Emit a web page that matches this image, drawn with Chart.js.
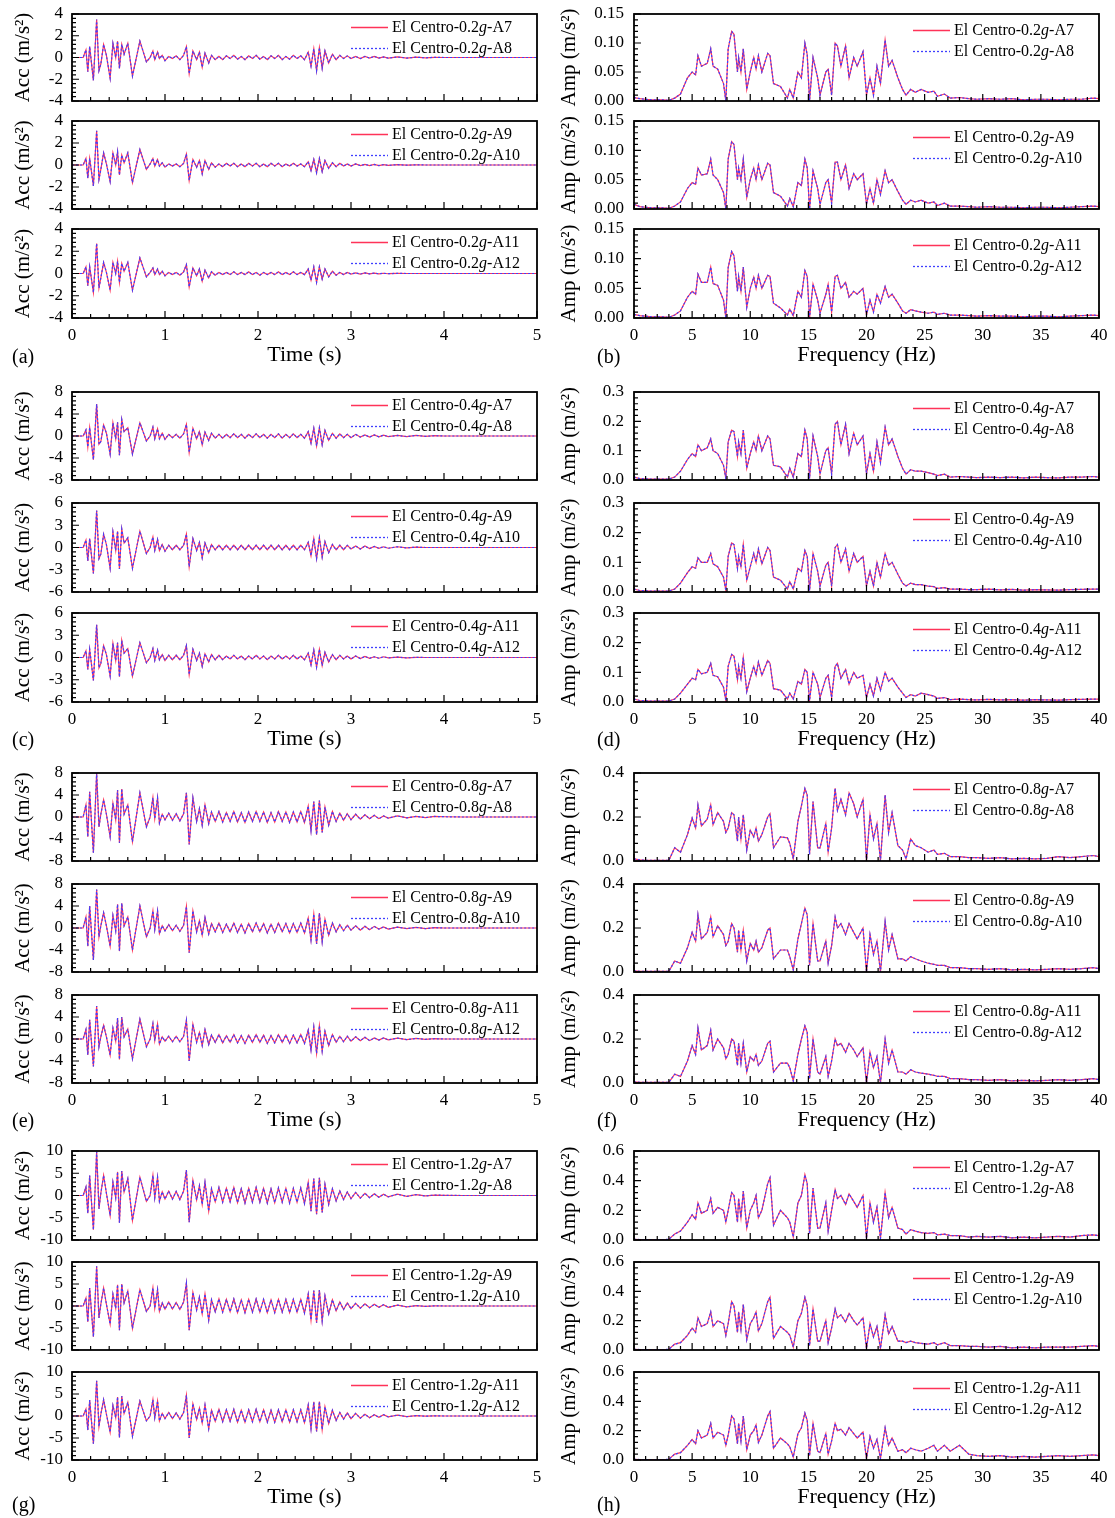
<!DOCTYPE html>
<html>
<head>
<meta charset="utf-8">
<script src="https://cdn.jsdelivr.net/npm/chart.js@4.4.1/dist/chart.umd.min.js"></script>
<style>
  body { margin: 0; background: #fff; width: 1115px; height: 1518px; position: relative; overflow: hidden; }
  canvas { position: absolute; }
  .tag { position: absolute; font: 20px "Liberation Serif", serif; color: #000; }
</style>
</head>
<body>
<script>
// ---- axes ----
const timeS = [
  0, 0.12, 0.15, 0.17, 0.19, 0.23, 0.265, 0.29, 0.31, 0.34,
  0.37, 0.41, 0.44, 0.47, 0.49, 0.51, 0.535, 0.56, 0.60, 0.65,
  0.73, 0.80, 0.84, 0.87, 0.89, 0.92, 0.94, 0.97, 1.00, 1.04,
  1.08, 1.12, 1.16, 1.20, 1.23, 1.26, 1.30, 1.34, 1.37, 1.40,
  1.43, 1.47, 1.50, 1.54, 1.58, 1.62, 1.66, 1.70, 1.74, 1.78,
  1.82, 1.86, 1.90, 1.94, 1.98, 2.02, 2.06, 2.10, 2.14, 2.18,
  2.22, 2.26, 2.30, 2.34, 2.38, 2.42, 2.46, 2.50, 2.54, 2.57,
  2.60, 2.63, 2.66, 2.69, 2.72, 2.76, 2.80, 2.84, 2.88, 2.92,
  2.96, 3.00, 3.05, 3.10, 3.15, 3.20, 3.25, 3.30, 3.35, 3.40,
  3.50, 3.60, 3.70, 3.80, 3.90, 4.00, 4.20, 4.40, 4.60, 5.00
];
const freqHz = [
  0, 0.5, 1, 1.5, 2, 2.5, 3, 3.5, 4, 4.6,
  5.0, 5.3, 5.5, 5.8, 6.3, 6.6, 6.8, 7.2, 7.7, 7.9,
  8.1, 8.4, 8.6, 8.9, 9.0, 9.2, 9.4, 9.7, 10.0, 10.3,
  10.5, 10.7, 11.0, 11.5, 11.7, 12.0, 12.6, 13.2, 13.4, 13.7,
  14.1, 14.4, 14.7, 14.9, 15.1, 15.4, 15.8, 16.0, 16.5, 16.7,
  17.0, 17.3, 17.5, 17.8, 18.2, 18.5, 18.9, 19.2, 19.7, 20.0,
  20.3, 20.6, 20.9, 21.2, 21.6, 21.9, 22.2, 22.7, 23.1, 23.4,
  23.8, 24.2, 24.7, 25.3, 25.8, 26.1, 26.7, 27.2, 28.0, 28.8,
  29.5, 30.5, 31.5, 32.5, 33.5, 34.5, 35.5, 36.5, 37.5, 38.5,
  39.5, 40
];

// ---- tick labels ----
const timeTicks = [0, 1, 2, 3, 4, 5];
const freqTicks = [0, 5, 10, 15, 20, 25, 30, 35, 40];
const accTicks4 = [-4, -2, 0, 2, 4];
const accTicks6 = [-6, -3, 0, 3, 6];
const accTicks8 = [-8, -4, 0, 4, 8];
const accTicks10 = [-10, -5, 0, 5, 10];
const ampTicks015 = [0, 0.05, 0.10, 0.15];
const ampTicks03 = [0, 0.1, 0.2, 0.3];
const ampTicks04 = [0, 0.2, 0.4];
const ampTicks06 = [0, 0.2, 0.4, 0.6];

// ---- legend names ----
const levels = ['0.2', '0.4', '0.8', '1.2'];
const sensorPairs = [['A7', 'A8'], ['A9', 'A10'], ['A11', 'A12']];

// ---- acceleration time histories (m/s2); the two sensors of a pair overlap, read as one trace ----
const acc02_1 = [
  0, 0, 0.7, -1.3, 1.0, -2.1, 3.5, -1.2, -0.6, 1.2,
  0.2, -1.9, 1.3, 0.0, 1.5, -1.0, 1.2, 0.3, 1.3, -1.7,
  1.5, -0.4, 0.0, 0.6, -0.2, 0.5, -0.1, 0.2, -0.3, 0.1,
  -0.1, 0.15, -0.2, 0.2, 1.0, -1.5, 0.6, -0.2, 0.5, -0.9,
  0.4, -0.5, 0.2, -0.2, 0.1, -0.2, 0.15, -0.1, 0.2, -0.15,
  0.1, -0.2, 0.15, -0.1, 0.2, -0.15, 0.1, -0.2, 0.15, -0.1,
  0.2, -0.2, 0.1, -0.15, 0.2, -0.1, 0.15, -0.2, 0.5, -0.8,
  0.8, -1.2, 0.9, -1.0, 0.6, -0.5, 0.3, -0.2, 0.2, -0.1,
  0.15, -0.1, 0.1, -0.1, 0.1, -0.05, 0.1, -0.05, 0.05, -0.05,
  0.05, -0.05, 0.03, -0.03, 0.02, 0, 0, 0, 0, 0
];
const acc02_2 = [
  0, 0, 0.6, -1.2, 0.6, -1.9, 3.1, -1.3, -0.4, 1.1,
  0.1, -1.5, 1.1, 0.0, 1.2, -0.9, 0.9, 0.2, 1.1, -1.6,
  1.4, -0.4, 0.1, 0.6, -0.1, 0.5, -0.1, 0.2, -0.2, 0.1,
  -0.1, 0.1, -0.15, 0.15, 1.0, -1.4, 0.5, -0.2, 0.4, -0.8,
  0.4, -0.4, 0.2, -0.2, 0.1, -0.15, 0.15, -0.1, 0.15, -0.15,
  0.1, -0.15, 0.15, -0.1, 0.15, -0.15, 0.1, -0.15, 0.15, -0.1,
  0.15, -0.15, 0.1, -0.1, 0.15, -0.1, 0.1, -0.15, 0.3, -0.5,
  0.5, -0.7, 0.6, -0.6, 0.4, -0.3, 0.2, -0.15, 0.15, -0.1,
  0.1, -0.1, 0.1, -0.05, 0.05, -0.05, 0.05, -0.05, 0.03, -0.03,
  0.03, -0.02, 0.02, 0, 0, 0, 0, 0, 0, 0
];
const acc02_3 = [
  0, 0, 0.6, -1.1, 0.6, -1.7, 2.7, -1.3, -0.4, 1.0,
  0.1, -1.5, 1.0, 0.0, 1.1, -0.8, 0.9, 0.2, 1.0, -1.5,
  1.4, -0.3, 0.1, 0.5, -0.1, 0.4, -0.1, 0.2, -0.2, 0.1,
  -0.1, 0.1, -0.15, 0.15, 0.8, -1.2, 0.5, -0.2, 0.4, -0.7,
  0.3, -0.4, 0.15, -0.15, 0.1, -0.1, 0.1, -0.1, 0.15, -0.1,
  0.1, -0.1, 0.15, -0.1, 0.1, -0.15, 0.1, -0.1, 0.1, -0.1,
  0.15, -0.1, 0.1, -0.1, 0.15, -0.1, 0.1, -0.1, 0.4, -0.6,
  0.6, -0.8, 0.6, -0.5, 0.4, -0.3, 0.2, -0.15, 0.1, -0.1,
  0.1, -0.05, 0.05, -0.05, 0.05, -0.03, 0.03, -0.03, 0.02, -0.02,
  0.02, 0, 0, 0, 0, 0, 0, 0, 0, 0
];
const acc04_1 = [
  0, 0, 1.1, -2.0, 1.5, -4.3, 5.8, -1.5, -1.0, 2.0,
  0.5, -3.3, 2.4, -0.5, 2.5, -3.5, 3.0, 0.8, 1.5, -3.3,
  2.4, -0.9, 0.0, 1.6, -0.5, 1.3, -0.5, 0.5, -0.6, 0.3,
  -0.3, 0.3, -0.4, 0.4, 2.1, -3.0, 1.4, -0.5, 0.8, -1.6,
  0.7, -0.8, 0.5, -0.4, 0.3, -0.4, 0.3, -0.3, 0.4, -0.3,
  0.3, -0.4, 0.3, -0.3, 0.4, -0.3, 0.3, -0.4, 0.3, -0.3,
  0.4, -0.4, 0.3, -0.3, 0.4, -0.3, 0.3, -0.4, 0.8, -1.3,
  1.4, -1.8, 1.5, -1.6, 1.0, -0.8, 0.5, -0.4, 0.4, -0.3,
  0.3, -0.3, 0.3, -0.2, 0.2, -0.2, 0.2, -0.15, 0.15, -0.1,
  0.1, -0.1, 0.1, -0.05, 0.05, 0, 0, 0, 0, 0
];
const acc04_2 = [
  0, 0, 1.0, -1.8, 1.2, -3.5, 5.0, -1.5, -0.9, 1.8,
  0.4, -2.8, 2.1, -0.4, 2.2, -2.9, 2.5, 0.6, 1.3, -2.8,
  2.2, -0.8, 0.0, 1.4, -0.4, 1.1, -0.4, 0.4, -0.5, 0.3,
  -0.3, 0.3, -0.3, 0.3, 1.8, -2.6, 1.2, -0.4, 0.7, -1.4,
  0.6, -0.7, 0.4, -0.3, 0.3, -0.3, 0.3, -0.3, 0.3, -0.3,
  0.3, -0.3, 0.3, -0.3, 0.3, -0.3, 0.3, -0.3, 0.3, -0.3,
  0.3, -0.3, 0.3, -0.3, 0.3, -0.3, 0.3, -0.3, 0.7, -1.1,
  1.2, -1.5, 1.3, -1.3, 0.8, -0.7, 0.4, -0.3, 0.3, -0.3,
  0.3, -0.2, 0.2, -0.2, 0.2, -0.15, 0.15, -0.1, 0.1, -0.1,
  0.1, -0.05, 0.05, 0, 0, 0, 0, 0, 0, 0
];
const acc04_3 = [
  0, 0, 0.9, -1.6, 1.1, -3.1, 4.4, -1.4, -0.8, 1.6,
  0.4, -2.5, 1.9, -0.4, 2.0, -2.6, 2.3, 0.6, 1.2, -2.5,
  2.0, -0.7, 0.0, 1.2, -0.4, 1.0, -0.3, 0.4, -0.4, 0.3,
  -0.3, 0.3, -0.3, 0.3, 1.6, -2.3, 1.1, -0.4, 0.6, -1.2,
  0.5, -0.6, 0.4, -0.3, 0.3, -0.3, 0.2, -0.2, 0.3, -0.2,
  0.2, -0.3, 0.2, -0.2, 0.3, -0.2, 0.2, -0.3, 0.2, -0.2,
  0.3, -0.2, 0.2, -0.2, 0.3, -0.2, 0.2, -0.3, 0.6, -1.0,
  1.0, -1.3, 1.1, -1.1, 0.7, -0.6, 0.4, -0.3, 0.3, -0.2,
  0.2, -0.2, 0.2, -0.15, 0.15, -0.1, 0.1, -0.1, 0.1, -0.05,
  0.05, -0.05, 0.03, 0, 0, 0, 0, 0, 0, 0
];
const acc08_1 = [
  0, 0, 2.2, -3.6, 4.6, -6.5, 8.0, -1.8, 0.5, 3.1,
  0.5, -3.6, 2.5, -0.5, 4.9, -4.7, 5.1, 0.5, 2.2, -4.5,
  4.4, -1.8, 0.0, 3.5, -0.3, 3.5, -1.1, 0.5, -0.5, 0.7,
  -0.6, 0.6, -0.7, 0.6, 4.4, -5.0, 3.5, -0.8, 1.5, -1.5,
  2.2, -1.2, 0.9, -0.8, 1.0, -0.9, 0.8, -0.8, 1.0, -0.9,
  0.8, -1.0, 0.9, -0.8, 1.0, -0.8, 0.9, -1.0, 0.8, -0.9,
  1.0, -0.8, 0.9, -1.0, 0.9, -0.9, 1.0, -1.0, 2.0, -2.5,
  2.8, -3.2, 3.0, -2.8, 1.8, -1.5, 1.0, -0.8, 0.7, -0.6,
  0.6, -0.5, 0.5, -0.4, 0.4, -0.3, 0.3, -0.3, 0.2, -0.2,
  0.2, -0.15, 0.1, -0.1, 0.1, 0.05, 0, 0, 0, 0
];
const acc08_2 = [
  0, 0, 2.0, -3.3, 4.0, -5.8, 7.0, -1.6, 0.4, 2.8,
  0.4, -3.3, 2.3, -0.5, 4.3, -4.2, 4.5, 0.4, 2.0, -4.0,
  4.0, -1.6, 0.0, 3.1, -0.3, 3.1, -1.0, 0.4, -0.5, 0.6,
  -0.5, 0.5, -0.6, 0.5, 3.9, -4.5, 3.1, -0.7, 1.3, -1.3,
  1.9, -1.1, 0.8, -0.7, 0.9, -0.8, 0.7, -0.7, 0.9, -0.8,
  0.7, -0.9, 0.8, -0.7, 0.9, -0.7, 0.8, -0.9, 0.7, -0.8,
  0.9, -0.7, 0.8, -0.9, 0.8, -0.8, 0.9, -0.9, 1.8, -2.2,
  2.5, -2.9, 2.7, -2.5, 1.6, -1.3, 0.9, -0.7, 0.6, -0.5,
  0.5, -0.4, 0.4, -0.4, 0.3, -0.3, 0.3, -0.2, 0.2, -0.2,
  0.15, -0.1, 0.1, -0.1, 0.05, 0, 0, 0, 0, 0
];
const acc08_3 = [
  0, 0, 1.7, -2.9, 3.5, -5.0, 6.0, -1.4, 0.4, 2.5,
  0.4, -2.9, 2.0, -0.4, 3.8, -3.7, 4.0, 0.4, 1.8, -3.6,
  3.6, -1.4, 0.0, 2.8, -0.3, 2.7, -0.9, 0.4, -0.4, 0.5,
  -0.5, 0.5, -0.5, 0.5, 3.4, -4.0, 2.7, -0.6, 1.2, -1.2,
  1.7, -1.0, 0.7, -0.6, 0.8, -0.7, 0.6, -0.6, 0.8, -0.7,
  0.6, -0.8, 0.7, -0.6, 0.8, -0.6, 0.7, -0.8, 0.6, -0.7,
  0.8, -0.6, 0.7, -0.8, 0.7, -0.7, 0.8, -0.8, 1.6, -2.0,
  2.2, -2.6, 2.4, -2.2, 1.4, -1.2, 0.8, -0.6, 0.5, -0.5,
  0.5, -0.4, 0.4, -0.3, 0.3, -0.3, 0.2, -0.2, 0.2, -0.15,
  0.15, -0.1, 0.1, -0.05, 0.05, 0, 0, 0, 0, 0
];
const acc12_1 = [
  0, 0, 1.9, -4.0, 4.5, -7.7, 9.8, -3.0, 0.5, 4.5,
  0.5, -4.5, 3.0, -0.5, 5.3, -6.1, 5.5, 0.8, 3.8, -5.6,
  4.1, -1.3, 0.0, 4.5, -0.5, 4.1, -1.3, 0.8, -0.8, 1.0,
  -0.8, 0.9, -0.9, 1.0, 5.7, -6.0, 3.4, -1.0, 2.2, -2.0,
  3.0, -3.5, 1.5, -1.4, 1.8, -1.5, 1.6, -1.4, 1.8, -1.6,
  1.5, -1.7, 1.6, -1.5, 1.8, -1.5, 1.6, -1.7, 1.5, -1.6,
  1.7, -1.5, 1.6, -1.7, 1.6, -1.5, 1.7, -1.8, 3.0, -3.5,
  3.8, -4.2, 4.0, -3.8, 2.5, -2.0, 1.5, -1.2, 1.0, -0.9,
  0.8, -0.7, 0.7, -0.6, 0.5, -0.5, 0.4, -0.4, 0.3, -0.3,
  0.3, -0.2, 0.2, -0.1, 0.1, 0.05, 0, 0, 0, 0
];
const acc12_2 = [
  0, 0, 1.8, -3.6, 4.1, -7.0, 9.0, -2.7, 0.4, 4.1,
  0.4, -4.1, 2.7, -0.5, 4.8, -5.5, 5.0, 0.7, 3.4, -5.1,
  3.7, -1.2, 0.0, 4.1, -0.5, 3.7, -1.2, 0.7, -0.7, 0.9,
  -0.7, 0.8, -0.8, 0.9, 5.2, -5.5, 3.1, -0.9, 2.0, -1.8,
  2.7, -3.2, 1.4, -1.3, 1.6, -1.4, 1.5, -1.3, 1.6, -1.5,
  1.4, -1.5, 1.5, -1.4, 1.6, -1.4, 1.5, -1.5, 1.4, -1.5,
  1.5, -1.4, 1.5, -1.5, 1.5, -1.4, 1.5, -1.6, 2.7, -3.2,
  3.5, -3.8, 3.6, -3.4, 2.3, -1.8, 1.4, -1.1, 0.9, -0.8,
  0.7, -0.6, 0.6, -0.5, 0.5, -0.4, 0.4, -0.3, 0.3, -0.3,
  0.2, -0.2, 0.1, -0.1, 0.05, 0, 0, 0, 0, 0
];
const acc12_3 = [
  0, 0, 1.6, -3.2, 3.6, -6.3, 8.0, -2.4, 0.4, 3.7,
  0.4, -3.7, 2.4, -0.4, 4.3, -4.9, 4.5, 0.6, 3.1, -4.6,
  3.4, -1.1, 0.0, 3.7, -0.4, 3.4, -1.1, 0.6, -0.6, 0.8,
  -0.6, 0.7, -0.7, 0.8, 4.7, -5.0, 2.8, -0.8, 1.8, -1.6,
  2.5, -2.9, 1.3, -1.2, 1.5, -1.3, 1.4, -1.2, 1.5, -1.4,
  1.3, -1.4, 1.4, -1.3, 1.5, -1.3, 1.4, -1.4, 1.3, -1.4,
  1.4, -1.3, 1.4, -1.4, 1.4, -1.3, 1.4, -1.5, 2.5, -2.9,
  3.2, -3.5, 3.3, -3.1, 2.1, -1.7, 1.3, -1.0, 0.8, -0.7,
  0.7, -0.6, 0.6, -0.5, 0.4, -0.4, 0.3, -0.3, 0.3, -0.2,
  0.2, -0.15, 0.1, -0.05, 0.05, 0, 0, 0, 0, 0
];

// ---- Fourier amplitude spectra (m/s2) ----
const amp02_1 = [
  0.006, 0.004, 0.003, 0.002, 0.002, 0.002, 0.001, 0.005, 0.012, 0.04,
  0.05, 0.045, 0.078, 0.06, 0.065, 0.09, 0.06, 0.055, 0.03, 0.0,
  0.09, 0.12, 0.115, 0.05, 0.075, 0.05, 0.09, 0.02, 0.05, 0.075,
  0.055, 0.078, 0.05, 0.082, 0.078, 0.03, 0.025, 0.005, 0.02, 0.005,
  0.05, 0.04, 0.10, 0.08, 0.0, 0.075, 0.04, 0.01, 0.05, 0.055,
  0.01, 0.10, 0.095, 0.06, 0.095, 0.04, 0.075, 0.06, 0.085, 0.01,
  0.04, 0.01, 0.06, 0.03, 0.105, 0.06, 0.07, 0.04, 0.02, 0.01,
  0.02, 0.015, 0.02, 0.015, 0.017, 0.008, 0.012, 0.005, 0.006, 0.004,
  0.003, 0.004, 0.003, 0.004, 0.002, 0.003, 0.003, 0.002, 0.003, 0.003,
  0.005, 0.004
];
const amp02_2 = [
  0.008, 0.004, 0.003, 0.002, 0.002, 0.002, 0.001, 0.005, 0.012, 0.035,
  0.045, 0.042, 0.07, 0.058, 0.06, 0.085, 0.058, 0.05, 0.028, 0.0,
  0.085, 0.115, 0.11, 0.05, 0.07, 0.05, 0.085, 0.02, 0.05, 0.07,
  0.05, 0.075, 0.05, 0.078, 0.075, 0.028, 0.022, 0.005, 0.018, 0.004,
  0.045, 0.04, 0.085, 0.07, 0.0, 0.065, 0.035, 0.008, 0.045, 0.05,
  0.01, 0.08, 0.08, 0.05, 0.075, 0.035, 0.06, 0.05, 0.06, 0.008,
  0.035, 0.01, 0.05, 0.025, 0.065, 0.045, 0.05, 0.03, 0.015, 0.008,
  0.015, 0.012, 0.015, 0.01, 0.012, 0.006, 0.01, 0.005, 0.005, 0.004,
  0.003, 0.004, 0.003, 0.003, 0.002, 0.003, 0.003, 0.002, 0.003, 0.004,
  0.005, 0.004
];
const amp02_3 = [
  0.006, 0.004, 0.003, 0.002, 0.002, 0.002, 0.001, 0.005, 0.012, 0.035,
  0.045, 0.04, 0.074, 0.06, 0.06, 0.086, 0.058, 0.055, 0.03, 0.0,
  0.085, 0.112, 0.105, 0.045, 0.07, 0.045, 0.086, 0.018, 0.05, 0.069,
  0.05, 0.072, 0.05, 0.072, 0.07, 0.025, 0.017, 0.005, 0.015, 0.004,
  0.045, 0.035, 0.08, 0.07, 0.0, 0.057, 0.03, 0.008, 0.04, 0.057,
  0.01, 0.07, 0.072, 0.05, 0.06, 0.035, 0.045, 0.04, 0.05, 0.005,
  0.03, 0.01, 0.04, 0.025, 0.053, 0.035, 0.04, 0.025, 0.012, 0.008,
  0.014, 0.012, 0.01, 0.008, 0.01, 0.006, 0.008, 0.005, 0.005, 0.004,
  0.003, 0.004, 0.003, 0.003, 0.002, 0.003, 0.003, 0.002, 0.003, 0.004,
  0.005, 0.004
];
const amp04_1 = [
  0.01, 0.005, 0.004, 0.003, 0.003, 0.003, 0.003, 0.01, 0.03, 0.07,
  0.09, 0.08, 0.12, 0.1, 0.11, 0.14, 0.1, 0.09, 0.05, 0.005,
  0.13, 0.17, 0.165, 0.08, 0.13, 0.09, 0.17, 0.04, 0.09, 0.13,
  0.1, 0.15, 0.1, 0.15, 0.14, 0.05, 0.045, 0.01, 0.04, 0.01,
  0.09, 0.08, 0.17, 0.14, 0.005, 0.15, 0.08, 0.02, 0.1, 0.11,
  0.02, 0.19, 0.2, 0.12, 0.19, 0.09, 0.16, 0.12, 0.15, 0.02,
  0.09, 0.03, 0.13, 0.06, 0.18, 0.12, 0.14, 0.08, 0.04, 0.02,
  0.035, 0.03, 0.03, 0.025, 0.02, 0.015, 0.02, 0.01, 0.012, 0.01,
  0.008, 0.01, 0.008, 0.01, 0.007, 0.01, 0.008, 0.007, 0.01, 0.01,
  0.012, 0.01
];
const amp04_2 = [
  0.01, 0.005, 0.004, 0.003, 0.003, 0.003, 0.003, 0.01, 0.03, 0.065,
  0.085, 0.08, 0.115, 0.1, 0.1, 0.13, 0.095, 0.085, 0.05, 0.005,
  0.12, 0.165, 0.16, 0.08, 0.12, 0.085, 0.16, 0.04, 0.085, 0.13,
  0.1, 0.145, 0.095, 0.15, 0.14, 0.05, 0.04, 0.01, 0.035, 0.01,
  0.08, 0.07, 0.14, 0.12, 0.005, 0.13, 0.07, 0.02, 0.09, 0.1,
  0.02, 0.15, 0.16, 0.1, 0.145, 0.07, 0.13, 0.1, 0.12, 0.02,
  0.07, 0.02, 0.1, 0.05, 0.13, 0.09, 0.1, 0.06, 0.03, 0.02,
  0.03, 0.025, 0.025, 0.02, 0.018, 0.012, 0.015, 0.01, 0.01, 0.008,
  0.008, 0.01, 0.007, 0.009, 0.006, 0.008, 0.007, 0.006, 0.008, 0.009,
  0.01, 0.01
];
const amp04_3 = [
  0.01, 0.005, 0.004, 0.003, 0.003, 0.003, 0.003, 0.01, 0.03, 0.06,
  0.08, 0.075, 0.11, 0.095, 0.1, 0.13, 0.09, 0.085, 0.05, 0.005,
  0.12, 0.16, 0.155, 0.075, 0.12, 0.08, 0.15, 0.035, 0.08, 0.12,
  0.09, 0.135, 0.09, 0.14, 0.13, 0.045, 0.04, 0.01, 0.03, 0.01,
  0.07, 0.06, 0.11, 0.1, 0.005, 0.1, 0.06, 0.015, 0.08, 0.09,
  0.015, 0.12, 0.13, 0.08, 0.11, 0.06, 0.1, 0.08, 0.09, 0.015,
  0.06, 0.02, 0.08, 0.04, 0.1, 0.07, 0.08, 0.05, 0.03, 0.015,
  0.025, 0.02, 0.03, 0.025, 0.02, 0.012, 0.015, 0.008, 0.01, 0.008,
  0.007, 0.009, 0.007, 0.008, 0.006, 0.008, 0.007, 0.006, 0.008, 0.009,
  0.01, 0.01
];
const amp08_1 = [
  0.01, 0.005, 0.003, 0.003, 0.003, 0.003, 0.003, 0.06, 0.04, 0.12,
  0.195, 0.15, 0.255, 0.16, 0.19, 0.255, 0.165, 0.22, 0.18, 0.13,
  0.15, 0.22, 0.21, 0.09, 0.2, 0.1, 0.21, 0.05, 0.14, 0.11,
  0.15, 0.09, 0.12, 0.2, 0.215, 0.06, 0.11, 0.105, 0.08, 0.01,
  0.18, 0.25, 0.33, 0.3, 0.03, 0.27, 0.06, 0.06, 0.17, 0.04,
  0.15, 0.33, 0.23, 0.28, 0.21, 0.31, 0.26, 0.2, 0.28, 0.0,
  0.21, 0.1, 0.17, 0.0, 0.3, 0.13, 0.22, 0.07, 0.05, 0.01,
  0.1, 0.07, 0.06, 0.04, 0.05, 0.03, 0.035, 0.02, 0.02, 0.015,
  0.015, 0.012, 0.015, 0.01, 0.012, 0.01, 0.012, 0.02, 0.015, 0.02,
  0.025, 0.02
];
const amp08_2 = [
  0.005, 0.003, 0.003, 0.003, 0.003, 0.003, 0.003, 0.05, 0.04, 0.11,
  0.18, 0.14, 0.26, 0.15, 0.18, 0.25, 0.16, 0.21, 0.17, 0.12,
  0.14, 0.22, 0.2, 0.09, 0.19, 0.1, 0.19, 0.05, 0.13, 0.1,
  0.14, 0.09, 0.11, 0.19, 0.2, 0.06, 0.1, 0.1, 0.07, 0.01,
  0.15, 0.22, 0.29, 0.26, 0.03, 0.22, 0.05, 0.05, 0.14, 0.04,
  0.12, 0.25, 0.2, 0.22, 0.17, 0.22, 0.18, 0.15, 0.2, 0.0,
  0.17, 0.08, 0.14, 0.0, 0.23, 0.1, 0.17, 0.06, 0.06, 0.05,
  0.07, 0.06, 0.05, 0.04, 0.035, 0.03, 0.03, 0.02, 0.02, 0.015,
  0.015, 0.012, 0.015, 0.01, 0.012, 0.01, 0.012, 0.015, 0.012, 0.015,
  0.02, 0.015
];
const amp08_3 = [
  0.005, 0.003, 0.003, 0.003, 0.003, 0.003, 0.003, 0.04, 0.03, 0.1,
  0.17, 0.13, 0.25, 0.15, 0.17, 0.24, 0.15, 0.2, 0.16, 0.11,
  0.13, 0.2, 0.19, 0.08, 0.18, 0.09, 0.18, 0.05, 0.12, 0.1,
  0.13, 0.08, 0.1, 0.18, 0.19, 0.05, 0.09, 0.09, 0.07, 0.01,
  0.13, 0.2, 0.26, 0.23, 0.02, 0.2, 0.05, 0.04, 0.12, 0.03,
  0.1, 0.2, 0.17, 0.18, 0.14, 0.18, 0.15, 0.12, 0.16, 0.0,
  0.14, 0.07, 0.12, 0.0, 0.2, 0.09, 0.15, 0.05, 0.05, 0.04,
  0.06, 0.05, 0.045, 0.04, 0.035, 0.03, 0.03, 0.02, 0.02, 0.015,
  0.015, 0.012, 0.015, 0.01, 0.012, 0.01, 0.012, 0.015, 0.012, 0.015,
  0.02, 0.015
];
const amp12_1 = [
  0.005, 0.003, 0.003, 0.003, 0.003, 0.003, 0.005, 0.04, 0.06, 0.12,
  0.17, 0.14, 0.25, 0.18, 0.2, 0.28, 0.18, 0.22, 0.2, 0.12,
  0.2, 0.32, 0.3, 0.12, 0.28, 0.15, 0.33, 0.08, 0.2, 0.25,
  0.3, 0.15, 0.2, 0.38, 0.42, 0.1, 0.2, 0.15, 0.12, 0.02,
  0.25, 0.3, 0.44, 0.38, 0.04, 0.35, 0.08, 0.08, 0.25, 0.06,
  0.2, 0.34, 0.28, 0.3, 0.24, 0.31, 0.26, 0.22, 0.3, 0.01,
  0.25, 0.12, 0.22, 0.01, 0.32, 0.15, 0.22, 0.08, 0.07, 0.04,
  0.07, 0.06, 0.05, 0.045, 0.05, 0.035, 0.04, 0.03, 0.03, 0.02,
  0.025, 0.02, 0.025, 0.015, 0.02, 0.015, 0.02, 0.025, 0.02, 0.03,
  0.035, 0.03
];
const amp12_2 = [
  0.005, 0.003, 0.003, 0.003, 0.003, 0.003, 0.005, 0.04, 0.05, 0.1,
  0.15, 0.12, 0.22, 0.16, 0.18, 0.26, 0.16, 0.2, 0.18, 0.1,
  0.18, 0.33, 0.3, 0.12, 0.26, 0.14, 0.31, 0.07, 0.18, 0.22,
  0.26, 0.13, 0.18, 0.33, 0.36, 0.08, 0.16, 0.12, 0.1, 0.02,
  0.2, 0.25, 0.36, 0.3, 0.03, 0.28, 0.06, 0.06, 0.2, 0.05,
  0.15, 0.28, 0.22, 0.24, 0.19, 0.25, 0.2, 0.17, 0.22, 0.01,
  0.18, 0.09, 0.16, 0.01, 0.24, 0.11, 0.16, 0.06, 0.06, 0.05,
  0.06, 0.05, 0.045, 0.04, 0.05, 0.035, 0.05, 0.03, 0.03, 0.025,
  0.025, 0.02, 0.025, 0.015, 0.02, 0.015, 0.02, 0.02, 0.02, 0.025,
  0.03, 0.025
];
const amp12_3 = [
  0.005, 0.003, 0.003, 0.003, 0.003, 0.003, 0.005, 0.04, 0.05, 0.1,
  0.14, 0.11, 0.2, 0.15, 0.17, 0.25, 0.15, 0.19, 0.17, 0.1,
  0.17, 0.3, 0.28, 0.11, 0.25, 0.13, 0.3, 0.07, 0.17, 0.2,
  0.24, 0.12, 0.17, 0.3, 0.33, 0.08, 0.15, 0.11, 0.09, 0.02,
  0.18, 0.22, 0.32, 0.27, 0.03, 0.25, 0.06, 0.05, 0.18, 0.04,
  0.13, 0.25, 0.2, 0.21, 0.17, 0.22, 0.18, 0.15, 0.19, 0.01,
  0.16, 0.08, 0.14, 0.01, 0.22, 0.1, 0.15, 0.06, 0.07, 0.05,
  0.08, 0.07, 0.06, 0.08, 0.1, 0.06, 0.1, 0.06, 0.1, 0.04,
  0.03, 0.025, 0.03, 0.02, 0.025, 0.02, 0.025, 0.03, 0.025, 0.03,
  0.035, 0.03
];

const RED = '#ff3358';
const BLUE = '#3f3fff';
const SERIF = '"Liberation Serif", "Times New Roman", serif';

// panel groups: (a)/(b) ... (g)/(h)
const groups = [
  { rows: [[14, 101], [121, 209], [229, 318]], tags: ['(a)', '(b)'], tagY: 345,
    acc: [acc02_1, acc02_2, acc02_3], accTicks: [accTicks4, accTicks4, accTicks4],
    amp: [amp02_1, amp02_2, amp02_3], ampTicks: ampTicks015, dec: 2 },
  { rows: [[392, 480], [503, 592], [613, 702]], tags: ['(c)', '(d)'], tagY: 728,
    acc: [acc04_1, acc04_2, acc04_3], accTicks: [accTicks8, accTicks6, accTicks6],
    amp: [amp04_1, amp04_2, amp04_3], ampTicks: ampTicks03, dec: 1 },
  { rows: [[773, 861], [884, 972], [995, 1083]], tags: ['(e)', '(f)'], tagY: 1109,
    acc: [acc08_1, acc08_2, acc08_3], accTicks: [accTicks8, accTicks8, accTicks8],
    amp: [amp08_1, amp08_2, amp08_3], ampTicks: ampTicks04, dec: 1 },
  { rows: [[1151, 1240], [1262, 1350], [1372, 1460]], tags: ['(g)', '(h)'], tagY: 1493,
    acc: [acc12_1, acc12_2, acc12_3], accTicks: [accTicks10, accTicks10, accTicks10],
    amp: [amp12_1, amp12_2, amp12_3], ampTicks: ampTicks06, dec: 1 }
];

// frame, inward ticks and legend with italic g
const framePlugin = {
  id: 'frame',
  afterDatasetsDraw(chart, args, o) {
    const { ctx, chartArea: a } = chart;
    const xs = chart.scales.x, ys = chart.scales.y;
    ctx.save();
    ctx.strokeStyle = '#000';
    ctx.lineWidth = 1.2;
    ctx.beginPath();
    const xv = xs.ticks.map(t => t.value);
    xv.forEach((v, i) => {
      const p = xs.getPixelForValue(v);
      ctx.moveTo(p, a.bottom); ctx.lineTo(p, a.bottom - 7);
      if (i < xv.length - 1) {
        for (let k = 1; k < o.minorX; k++) {
          const q = xs.getPixelForValue(v + (xv[i + 1] - v) * k / o.minorX);
          ctx.moveTo(q, a.bottom); ctx.lineTo(q, a.bottom - 4);
        }
      }
    });
    const yv = ys.ticks.map(t => t.value);
    yv.forEach((v, i) => {
      const p = ys.getPixelForValue(v);
      ctx.moveTo(a.left, p); ctx.lineTo(a.left + 7, p);
      if (i < yv.length - 1) {
        for (let k = 1; k < o.minorY; k++) {
          const q = ys.getPixelForValue(v + (yv[i + 1] - v) * k / o.minorY);
          ctx.moveTo(a.left, q); ctx.lineTo(a.left + 4, q);
        }
      }
    });
    ctx.stroke();
    ctx.lineWidth = 1.8;
    ctx.strokeRect(a.left, a.top, a.right - a.left, a.bottom - a.top);

    // legend
    o.names.forEach((n, i) => {
      const y = Math.round(a.top + o.legY[i]) + 0.5;
      ctx.strokeStyle = i ? BLUE : RED;
      ctx.lineWidth = 1.3;
      ctx.setLineDash(i ? [2, 2] : []);
      ctx.beginPath();
      ctx.moveTo(a.right - 186, y); ctx.lineTo(a.right - 149, y);
      ctx.stroke();
      ctx.setLineDash([]);
      const m = n.match(/^(.*\d)g(-.*)$/);
      ctx.fillStyle = '#000';
      ctx.textBaseline = 'middle';
      let x = a.right - 145;
      ctx.font = '16px ' + SERIF;
      ctx.fillText(m[1], x, y); x += ctx.measureText(m[1]).width;
      ctx.font = 'italic 16px ' + SERIF;
      ctx.fillText('g', x, y); x += ctx.measureText('g').width;
      ctx.font = '16px ' + SERIF;
      ctx.fillText(m[2], x, y);
    });
    ctx.restore();
  }
};

function makePanel(opt) {
  const cv = document.createElement('canvas');
  const top = opt.top - 12;
  const h = opt.bottom - opt.top + 12 + (opt.isBottom ? 50 : 12);
  cv.width = opt.width; cv.height = h;
  cv.style.left = opt.left + 'px'; cv.style.top = top + 'px';
  cv.style.width = opt.width + 'px'; cv.style.height = h + 'px';
  document.body.appendChild(cv);

  const pts = () => opt.xs.map((x, i) => ({ x: x, y: opt.ys[i] }));
  new Chart(cv.getContext('2d'), {
    type: 'line',
    data: {
      datasets: [
        { label: opt.names[0], data: pts(), borderColor: RED, borderWidth: 1.2, pointRadius: 0, tension: 0, order: 2 },
        { label: opt.names[1], data: pts(), borderColor: BLUE, borderWidth: 1.2, borderDash: [2, 2], pointRadius: 0, tension: 0, order: 1 }
      ]
    },
    options: {
      responsive: false,
      animation: false,
      events: [],
      devicePixelRatio: 1,
      layout: { padding: { top: 12, right: opt.padR, bottom: opt.isBottom ? 0 : 12, left: 0 } },
      plugins: {
        legend: { display: false },
        tooltip: { enabled: false },
        frame: { minorX: 5, minorY: 5, names: opt.names, legY: opt.legY }
      },
      scales: {
        x: {
          type: 'linear', min: opt.xTicks[0], max: opt.xTicks[opt.xTicks.length - 1],
          grid: { display: false, drawTicks: false }, border: { display: false },
          afterBuildTicks: s => { s.ticks = opt.xTicks.map(v => ({ value: v })); },
          afterFit: s => { s.height = opt.isBottom ? 50 : 0; s.paddingLeft = 0; s.paddingRight = 0; },
          ticks: { display: opt.isBottom, autoSkip: false, maxRotation: 0, padding: 7, color: '#000',
                   font: { family: SERIF, size: 17 } },
          title: { display: opt.isBottom, text: opt.xTitle, color: '#000', padding: 0,
                   font: { family: SERIF, size: 22 } }
        },
        y: {
          type: 'linear', min: opt.yTicks[0], max: opt.yTicks[opt.yTicks.length - 1],
          grid: { display: false, drawTicks: false }, border: { display: false },
          afterBuildTicks: s => { s.ticks = opt.yTicks.map(v => ({ value: v })); },
          afterFit: s => { s.width = opt.yWidth; s.paddingTop = 0; s.paddingBottom = 0; },
          ticks: { autoSkip: false, padding: opt.tickPad, color: '#000',
                   font: { family: SERIF, size: 17 },
                   callback: v => opt.dec ? Number(v).toFixed(opt.dec) : String(v) },
          title: { display: true, text: opt.yTitle, color: '#000',
                   padding: { top: opt.titlePad, bottom: 0 },
                   font: { family: SERIF, size: 21 } }
        }
      }
    },
    plugins: [framePlugin]
  });
}

groups.forEach((g, gi) => {
  const lvl = levels[gi];
  g.rows.forEach((r, k) => {
    const names = sensorPairs[k].map(s => 'El Centro-' + lvl + 'g-' + s);
    const isBottom = k === 2;
    makePanel({
      left: 0, width: 545, padR: 8, yWidth: 72, tickPad: 9, titlePad: 11,
      top: r[0], bottom: r[1], isBottom: isBottom,
      xs: timeS, ys: g.acc[k], xTicks: timeTicks, yTicks: g.accTicks[k], dec: 0,
      xTitle: 'Time (s)', yTitle: 'Acc (m/s\u00B2)', names: names, legY: [13, 34]
    });
    makePanel({
      left: 550, width: 558, padR: 9, yWidth: 84, tickPad: 10, titlePad: 7,
      top: r[0], bottom: r[1], isBottom: isBottom,
      xs: freqHz, ys: g.amp[k], xTicks: freqTicks, yTicks: g.ampTicks, dec: g.dec,
      xTitle: 'Frequency (Hz)', yTitle: 'Amp (m/s\u00B2)', names: names, legY: [16, 37]
    });
  });
  [[12, g.tags[0]], [597, g.tags[1]]].forEach(([x, t]) => {
    const d = document.createElement('div');
    d.className = 'tag';
    d.style.left = x + 'px';
    d.style.top = g.tagY + 'px';
    d.textContent = t;
    document.body.appendChild(d);
  });
});
</script>
</body>
</html>
